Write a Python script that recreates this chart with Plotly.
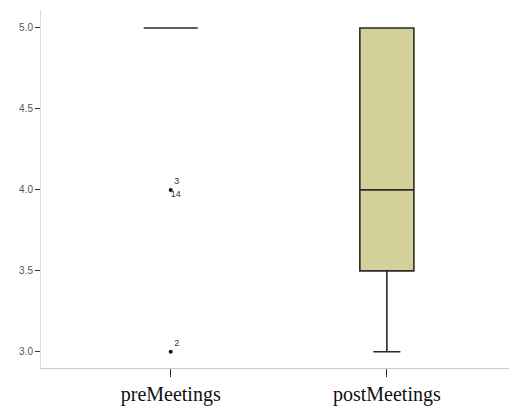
import plotly.graph_objects as go

categories = ["preMeetings", "postMeetings"]
q1 = [5.0, 3.5]
median = [5.0, 4.0]
q3 = [5.0, 5.0]
lowerfence = [5.0, 3.0]
upperfence = [5.0, 5.0]

outlier_values = [4.0, 3.0]
outlier_cases_above = ["3", "2"]
outlier_cases_below = ["14", ""]
yticks = [3.0, 3.5, 4.0, 4.5, 5.0]

xpos = list(range(len(categories)))

fig = go.Figure()
fig.add_trace(go.Box(
    x=xpos, q1=q1, median=median, q3=q3,
    lowerfence=lowerfence, upperfence=upperfence,
    width=0.25, whiskerwidth=0.5,
    fillcolor="#D4D09A", line=dict(color="#2a2a2a", width=1.6),
    boxpoints=False, showlegend=False, hoverinfo="skip",
))
fig.add_trace(go.Scatter(
    x=[xpos[0]] * len(outlier_values), y=outlier_values,
    mode="markers+text", text=outlier_cases_above, textposition="top right",
    marker=dict(color="#111", size=4), textfont=dict(size=9, color="#333", family="Liberation Sans"),
    showlegend=False, hoverinfo="skip", cliponaxis=False,
))
fig.add_trace(go.Scatter(
    x=[xpos[0]] * len(outlier_values), y=outlier_values,
    mode="text", text=outlier_cases_below, textposition="bottom right",
    textfont=dict(size=9, color="#333", family="Liberation Sans"),
    showlegend=False, hoverinfo="skip", cliponaxis=False,
))

fig.update_layout(
    width=509, height=408,
    margin=dict(l=41, r=0, t=10, b=40, autoexpand=False),
    paper_bgcolor="white", plot_bgcolor="white",
    xaxis=dict(
        range=[-0.60, 1.565], tickmode="array", tickvals=xpos, ticktext=categories,
        showgrid=False, zeroline=False, showline=True, linecolor="#cccccc", linewidth=1,
        ticks="outside", ticklen=8, tickcolor="#333", tickwidth=1, automargin=False,
        tickfont=dict(family="Liberation Serif", size=20, color="#111"),
    ),
    yaxis=dict(
        range=[2.9, 5.111], tickmode="array", tickvals=yticks,
        ticktext=[f"{v:.1f}" for v in yticks], automargin=False,
        showgrid=False, zeroline=False, showline=True, linecolor="#dddddd", linewidth=1,
        ticks="outside", ticklen=5, tickcolor="#333", tickwidth=1,
        tickfont=dict(family="Liberation Sans", size=10, color="#555"),
    ),
)
fig.write_html("out.html", config={"displayModeBar": False},
               post_script="document.body.style.margin='0';document.body.style.overflow='hidden';")
